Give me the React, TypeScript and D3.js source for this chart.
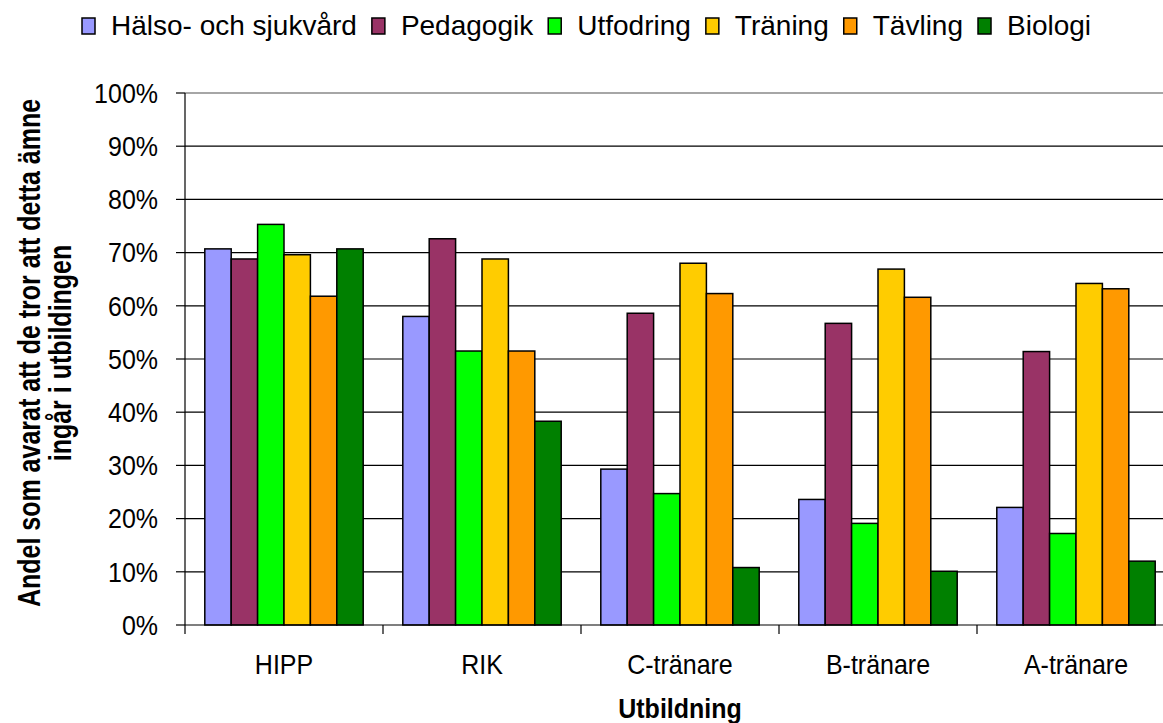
import React, { useEffect, useRef } from 'react';
import * as d3 from 'd3';

const categories = ['HIPP', 'RIK', 'C-tränare', 'B-tränare', 'A-tränare'];
const seriesNames = ['Hälso- och sjukvård', 'Pedagogik', 'Utfodring', 'Träning', 'Tävling', 'Biologi'];
const seriesColors = ['#9999FF', '#993366', '#00FF00', '#FFCC00', '#FF9900', '#008000'];

// one array per series, values in % for HIPP, RIK, C, B, A
const halsoValues = [70.7, 58.0, 29.3, 23.6, 22.1];
const pedagogikValues = [68.8, 72.6, 58.6, 56.7, 51.4];
const utfodringValues = [75.3, 51.5, 24.7, 19.1, 17.2];
const traningValues = [69.6, 68.8, 68.0, 66.9, 64.2];
const tavlingValues = [61.8, 51.5, 62.3, 61.6, 63.2];
const biologiValues = [70.7, 38.3, 10.8, 10.1, 12.0];

const yTicks = [0, 10, 20, 30, 40, 50, 60, 70, 80, 90, 100];

const W = 1163;
const H = 723;
const FONT = 'Arial, "Liberation Sans", sans-serif';

const App = () => {
  const ref = useRef<SVGSVGElement>(null);

  useEffect(() => {
    const svg = d3.select(ref.current);
    svg.selectAll('*').remove();

    const series = [halsoValues, pedagogikValues, utfodringValues, traningValues, tavlingValues, biologiValues];
    const left = 185;
    const right = 1175;
    const top = 93;
    const bottom = 625;

    const x = d3.scaleBand().domain(categories).range([left, right]).padding(0);
    const xs = d3.scaleBand().domain(seriesNames).range([0, x.bandwidth()]).paddingInner(0).paddingOuter(0.75);
    const y = d3.scaleLinear().domain([0, 100]).range([bottom, top]);

    // gridlines
    svg.append('g')
      .selectAll('line')
      .data(yTicks.filter((t) => t > 0 && t < 100))
      .enter().append('line')
      .attr('x1', left).attr('x2', W)
      .attr('y1', (d) => y(d)).attr('y2', (d) => y(d))
      .attr('stroke', '#000').attr('stroke-width', 1.2);

    // top border
    svg.append('line')
      .attr('x1', left).attr('x2', W)
      .attr('y1', y(100)).attr('y2', y(100))
      .attr('stroke', '#888').attr('stroke-width', 1.6);

    // bars
    const groups = svg.append('g')
      .selectAll('g')
      .data(series)
      .enter().append('g')
      .attr('fill', (d, i) => seriesColors[i]);

    groups.selectAll('rect')
      .data((d, i) => d.map((v, j) => ({ v, cat: categories[j], s: seriesNames[i] })))
      .enter().append('rect')
      .attr('x', (d) => x(d.cat)! + xs(d.s)!)
      .attr('y', (d) => y(d.v))
      .attr('width', xs.bandwidth())
      .attr('height', (d) => y(0) - y(d.v))
      .attr('stroke', '#000')
      .attr('stroke-width', 1.5);

    // y axis
    const yAxis = svg.append('g');
    yAxis.append('line')
      .attr('x1', left).attr('x2', left)
      .attr('y1', top).attr('y2', bottom)
      .attr('stroke', '#000').attr('stroke-width', 1.2);
    yAxis.selectAll('line.tick')
      .data(yTicks)
      .enter().append('line')
      .attr('class', 'tick')
      .attr('x1', left - 9).attr('x2', left)
      .attr('y1', (d) => y(d)).attr('y2', (d) => y(d))
      .attr('stroke', '#000').attr('stroke-width', 1.2);
    yAxis.selectAll('text')
      .data(yTicks)
      .enter().append('text')
      .attr('transform', (d) => `translate(158,${y(d)}) scale(1,1.08)`)
      .attr('dy', '0.36em')
      .attr('text-anchor', 'end')
      .style('font', `25px ${FONT}`)
      .text((d) => `${d}%`);

    // x axis
    const xAxis = svg.append('g');
    xAxis.append('line')
      .attr('x1', left).attr('x2', W)
      .attr('y1', bottom).attr('y2', bottom)
      .attr('stroke', '#000').attr('stroke-width', 1.2);
    xAxis.selectAll('line.tick')
      .data(categories)
      .enter().append('line')
      .attr('class', 'tick')
      .attr('x1', (d) => x(d)!).attr('x2', (d) => x(d)!)
      .attr('y1', bottom).attr('y2', bottom + 9)
      .attr('stroke', '#000').attr('stroke-width', 1.2);
    xAxis.selectAll('text')
      .data(categories)
      .enter().append('text')
      .attr('transform', (d) => `translate(${x(d)! + x.bandwidth() / 2},674) scale(1,1.1)`)
      .attr('text-anchor', 'middle')
      .style('font', `25px ${FONT}`)
      .text((d) => d);

    // axis titles
    svg.append('text')
      .attr('transform', `translate(${(left + right) / 2},718) scale(1,1.1)`)
      .attr('text-anchor', 'middle')
      .style('font', `bold 25px ${FONT}`)
      .text('Utbildning');

    const yMid = (top + bottom) / 2 - 6;
    svg.append('text')
      .attr('transform', `translate(40,${yMid}) rotate(-90) scale(1,1.25)`)
      .attr('text-anchor', 'middle')
      .style('font', `bold 25px ${FONT}`)
      .text('Andel som avarat att de tror att detta ämne');
    svg.append('text')
      .attr('transform', `translate(71,${yMid}) rotate(-90) scale(1,1.25)`)
      .attr('text-anchor', 'middle')
      .style('font', `bold 25px ${FONT}`)
      .text('ingår i utbildingen');

    // legend
    const legend = svg.append('g');
    let lx = 82;
    seriesNames.forEach((name, i) => {
      legend.append('rect')
        .attr('x', lx).attr('y', 18)
        .attr('width', 13).attr('height', 16)
        .attr('fill', seriesColors[i])
        .attr('stroke', '#000').attr('stroke-width', 1.5);
      const t = legend.append('text')
        .attr('x', lx + 29)
        .attr('y', 35)
        .style('font', `28px ${FONT}`)
        .text(name);
      const w = (t.node() as SVGTextElement).getComputedTextLength();
      lx = lx + 29 + w + 15;
    });
  }, []);

  return (
    <svg
      ref={ref}
      width={W}
      height={H}
      style={{ position: 'absolute', left: 0, top: 0, background: '#fff' }}
    />
  );
};

export default App;
